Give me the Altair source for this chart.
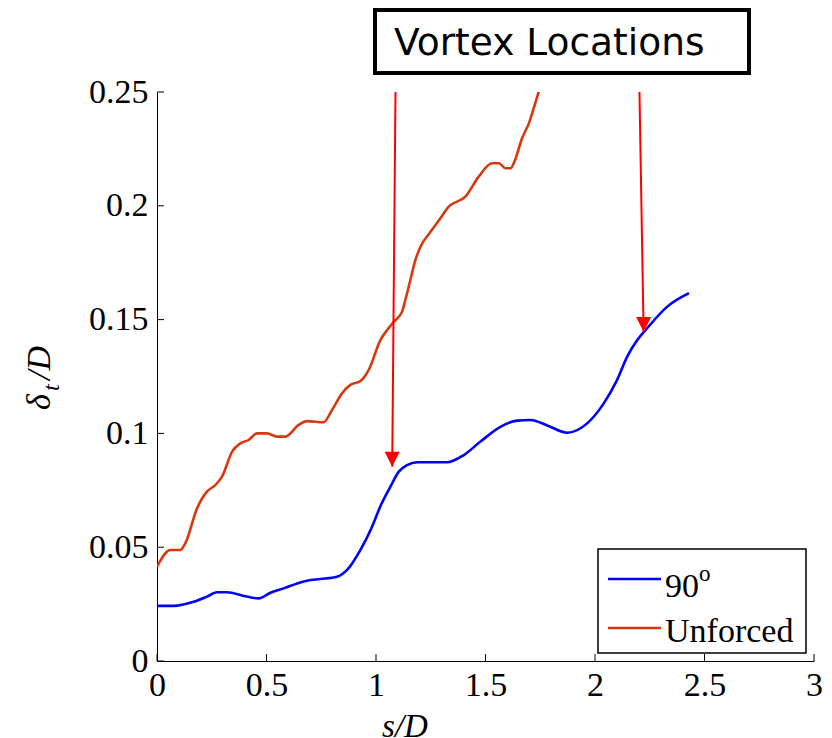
import altair as alt
import pandas as pd

# ---- data ----
x_90 = [0, 0.076, 0.167, 0.228, 0.274, 0.320, 0.396, 0.464, 0.518, 0.578, 0.640, 0.685,
        0.746, 0.822, 0.868, 0.929, 0.982, 1.020, 1.066, 1.104, 1.142, 1.188, 1.325, 1.401,
        1.477, 1.568, 1.645, 1.705, 1.782, 1.873, 1.964, 2.040, 2.101, 2.147, 2.193, 2.238,
        2.330, 2.429]
y_90 = [0.0242, 0.0242, 0.0260, 0.0283, 0.0302, 0.0302, 0.0286, 0.0275, 0.0300, 0.0319,
        0.0341, 0.0353, 0.0360, 0.0370, 0.0400, 0.0488, 0.0590, 0.0680, 0.0766, 0.0832,
        0.0861, 0.0873, 0.0873, 0.0905, 0.0964, 0.1029, 0.1056, 0.1059, 0.1035, 0.1003,
        0.1044, 0.1132, 0.1235, 0.1337, 0.1410, 0.1462, 0.1557, 0.1616]

x_unf = [0, 0.061, 0.106, 0.129, 0.183, 0.228, 0.266, 0.297, 0.343, 0.381, 0.418, 0.457,
         0.502, 0.548, 0.586, 0.647, 0.685, 0.761, 0.799, 0.845, 0.883, 0.929, 0.967, 1.020,
         1.051, 1.081, 1.119, 1.134, 1.157, 1.180, 1.203, 1.249, 1.294, 1.332, 1.408, 1.469,
         1.530, 1.561, 1.591, 1.614, 1.632, 1.667, 1.698, 1.720, 1.743]
y_unf = [0.0414, 0.0488, 0.0488, 0.0517, 0.0671, 0.0744, 0.0773, 0.0810, 0.0920, 0.0956,
         0.0971, 0.1000, 0.1000, 0.0986, 0.0986, 0.1037, 0.1054, 0.1049, 0.1103, 0.1176,
         0.1213, 0.1230, 0.1279, 0.1410, 0.1454, 0.1490, 0.1535, 0.1586, 0.1674, 0.1762,
         0.1820, 0.1886, 0.1945, 0.1996, 0.2040, 0.2128, 0.2187, 0.2187, 0.2165, 0.2165,
         0.2194, 0.2297, 0.2362, 0.2428, 0.2501]

series_names = ["90°", "Unforced"]
series_colors = ["#0000ff", "#d9380f"]

arrow_x_top = [1.089, 2.203]
arrow_y_top = [0.25, 0.25]
arrow_x_tip = [1.074, 2.222]
arrow_y_tip = [0.0854, 0.1446]

x_ticks = [0, 0.5, 1, 1.5, 2, 2.5, 3]
y_ticks = [0, 0.05, 0.1, 0.15, 0.2, 0.25]

# ---- tables ----
df = pd.concat([
    pd.DataFrame({"s": x_90, "d": y_90, "series": series_names[0], "o": range(len(x_90))}),
    pd.DataFrame({"s": x_unf, "d": y_unf, "series": series_names[1], "o": range(len(x_unf))}),
])
arrows = pd.DataFrame({"x1": arrow_x_top, "y1": arrow_y_top, "x2": arrow_x_tip, "y2": arrow_y_tip})
xt = pd.DataFrame({"v": x_ticks})
yt = pd.DataFrame({"v": y_ticks})
one = pd.DataFrame({"a": [0]})

W, H = 657, 569
SERIF = "Liberation Serif"

xscale = alt.Scale(domain=[0, 3], nice=False, zero=False)
yscale = alt.Scale(domain=[0, 0.25], nice=False, zero=False)

xaxis = alt.Axis(values=x_ticks, format="~g", ticks=False, grid=False, title=None,
                 labelFont=SERIF, labelFontSize=34, labelColor="black", labelPadding=7,
                 labelFlush=False, labelOverlap=False, domainColor="black", domainWidth=1)
yaxis = alt.Axis(values=y_ticks, format="~g", ticks=False, grid=False, title=None,
                 labelFont=SERIF, labelFontSize=34, labelColor="black", labelPadding=9,
                 labelFlush=False, labelOverlap=False, domainColor="black", domainWidth=1)

lines = alt.Chart(df).mark_line(strokeWidth=2.6, clip=True, interpolate="monotone").encode(
    x=alt.X("s:Q", scale=xscale, axis=xaxis),
    y=alt.Y("d:Q", scale=yscale, axis=yaxis),
    color=alt.Color("series:N", scale=alt.Scale(domain=series_names, range=series_colors), legend=None),
    order="o:Q",
)

xtick_marks = alt.Chart(xt).mark_rule(color="black", strokeWidth=1).encode(
    x=alt.X("v:Q", scale=xscale), y=alt.value(H), y2=alt.value(H - 7))
ytick_marks = alt.Chart(yt).mark_rule(color="black", strokeWidth=1).encode(
    y=alt.Y("v:Q", scale=yscale), x=alt.value(0), x2=alt.value(7))

arrow_lines = alt.Chart(arrows).mark_rule(color="#ff0000", strokeWidth=2).encode(
    x=alt.X("x1:Q", scale=xscale), y=alt.Y("y1:Q", scale=yscale),
    x2="x2:Q", y2="y2:Q")
arrow_heads = alt.Chart(arrows).mark_point(
    shape="M-1,-2L1,-2L0,0Z", filled=True, color="#ff0000", size=225, opacity=1, strokeWidth=0
).encode(x=alt.X("x2:Q", scale=xscale), y=alt.Y("y2:Q", scale=yscale))

# legend (drawn by hand, pixel offsets relative to the plot area)
ox, oy = 157, 92
leg_box = alt.Chart(one).mark_rect(fill="white", stroke="black", strokeWidth=1.5).encode(
    x=alt.value(598 - ox), x2=alt.value(806 - ox), y=alt.value(549 - oy), y2=alt.value(653 - oy))
leg_l1 = alt.Chart(one).mark_rule(color=series_colors[0], strokeWidth=2.6).encode(
    x=alt.value(608 - ox), x2=alt.value(661 - ox), y=alt.value(579 - oy))
leg_l2 = alt.Chart(one).mark_rule(color=series_colors[1], strokeWidth=2.6).encode(
    x=alt.value(608 - ox), x2=alt.value(661 - ox), y=alt.value(628 - oy))
leg_t1 = alt.Chart(one).mark_text(text="90", font=SERIF, fontSize=34, align="left",
                                  baseline="alphabetic", color="black").encode(
    x=alt.value(665 - ox), y=alt.value(597 - oy))
leg_t1s = alt.Chart(one).mark_text(text="o", font=SERIF, fontSize=23, align="left",
                                   baseline="alphabetic", color="black").encode(
    x=alt.value(699 - ox), y=alt.value(581 - oy))
leg_t2 = alt.Chart(one).mark_text(text="Unforced", font=SERIF, fontSize=34, align="left",
                                  baseline="alphabetic", color="black").encode(
    x=alt.value(665 - ox), y=alt.value(642 - oy))

# annotation box
vbox = alt.Chart(one).mark_rect(fill="white", stroke="black", strokeWidth=4).encode(
    x=alt.value(375 - ox), x2=alt.value(749 - ox), y=alt.value(10 - oy), y2=alt.value(73 - oy))
vtext = alt.Chart(one).mark_text(text="Vortex Locations", font="DejaVu Sans", fontSize=37.5,
                                 align="left", baseline="alphabetic", color="black").encode(
    x=alt.value(394 - ox), y=alt.value(55 - oy))

# axis titles
xtitle = alt.Chart(one).mark_text(text="s/D", font=SERIF, fontSize=33, fontStyle="italic",
                                  align="center", baseline="alphabetic", color="black").encode(
    x=alt.value(405 - ox), y=alt.value(737 - oy))
yt_delta = alt.Chart(one).mark_text(text="δ", font=SERIF, fontSize=34, fontStyle="italic",
                                    align="left", baseline="alphabetic", angle=270, color="black").encode(
    x=alt.value(50 - ox), y=alt.value(410 - oy))
yt_sub = alt.Chart(one).mark_text(text="t", font=SERIF, fontSize=24, fontStyle="italic",
                                  align="left", baseline="alphabetic", angle=270, color="black").encode(
    x=alt.value(59 - ox), y=alt.value(391 - oy))
yt_rest = alt.Chart(one).mark_text(text="/D", font=SERIF, fontSize=34, fontStyle="italic",
                                   align="left", baseline="alphabetic", angle=270, color="black").encode(
    x=alt.value(50 - ox), y=alt.value(380 - oy))

chart = alt.layer(
    lines, xtick_marks, ytick_marks, arrow_lines, arrow_heads,
    leg_box, leg_l1, leg_l2, leg_t1, leg_t1s, leg_t2,
    vbox, vtext, xtitle, yt_delta, yt_sub, yt_rest,
).properties(
    width=W, height=H,
    autosize=alt.AutoSizeParams(type="none"),
    padding={"left": ox, "top": oy, "right": 832 - ox - W, "bottom": 738 - oy - H},
    background="white",
).configure_view(stroke=None)

chart.save("out.html", embed_options={"renderer": "svg", "actions": False})
